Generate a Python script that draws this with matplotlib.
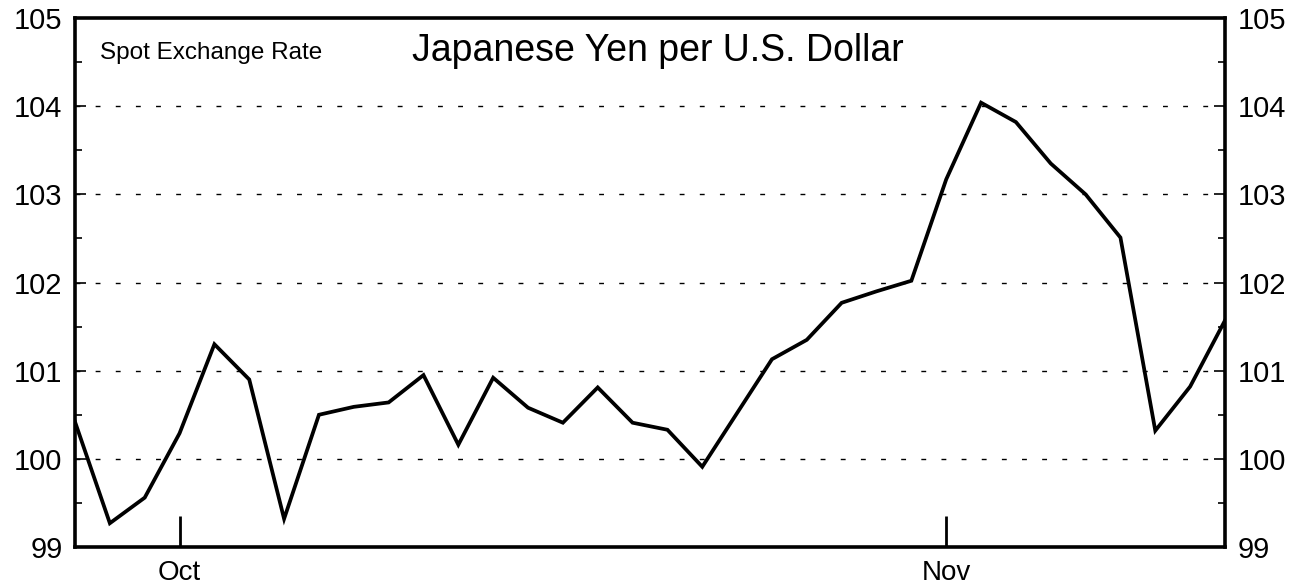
import numpy as np
import pandas as pd
import matplotlib
matplotlib.use("Agg")
import matplotlib.pyplot as plt
from matplotlib.ticker import MultipleLocator, FixedLocator

# Business-day dates (Sep 27 - Nov 13, 1995)
dates = pd.bdate_range("1995-09-27", "1995-11-13")
yen_per_usd = [100.42, 99.27, 99.56, 100.29, 101.30, 100.90, 99.32, 100.50,
               100.59, 100.64, 100.95, 100.16, 100.92, 100.58, 100.41, 100.81,
               100.41, 100.33, 99.91, 100.52, 101.13, 101.35, 101.77, 101.90,
               102.02, 103.17, 104.04, 103.82, 103.35, 103.00, 102.51, 100.32,
               100.82, 101.57]
month_labels = ["Oct", "Nov"]
y_ticks = [99, 100, 101, 102, 103, 104, 105]
title = "Japanese Yen per U.S. Dollar"
subtitle = "Spot Exchange Rate"

plt.rcParams["font.family"] = ["Liberation Sans", "DejaVu Sans"]

fig = plt.figure(figsize=(13, 5.87), dpi=100)
ax = fig.add_axes([0.0577, 0.0681, 0.8846, 0.9012])

x = np.arange(len(yen_per_usd))
ax.plot(x, yen_per_usd, color="black", lw=2.7, solid_joinstyle="miter")

ax.set_xlim(0, len(yen_per_usd) - 1)
ax.set_ylim(99, 105)

# month ticks at the first business day of each month
month_idx = [i for i in range(1, len(dates)) if dates[i].month != dates[i - 1].month]
ax.xaxis.set_major_locator(FixedLocator(month_idx))
ax.set_xticklabels(month_labels[:len(month_idx)])
ax.tick_params(axis="x", which="major", direction="in", length=22, width=2,
               labelsize=20, pad=9)

ax.yaxis.set_major_locator(FixedLocator(y_ticks))
ax.yaxis.set_minor_locator(MultipleLocator(0.5))
ax.tick_params(axis="y", which="major", direction="in", length=8, width=1.2,
               labelsize=21, pad=9, left=True, right=True,
               labelleft=True, labelright=True)
ax.tick_params(axis="y", which="minor", direction="in", length=5, width=1.2,
               left=True, right=True)

for v in y_ticks[1:-1]:
    ax.axhline(v, color="black", lw=1.0, ls=(0, (3.5, 11)), zorder=0.5)

for s in ax.spines.values():
    s.set_linewidth(2.6)

ax.text(0.022, 0.934, subtitle, transform=ax.transAxes, fontsize=17.5,
        ha="left", va="center")
ax.text(0.507, 0.937, title, transform=ax.transAxes, fontsize=27,
        ha="center", va="center")

fig.savefig("out.png", dpi=100)
